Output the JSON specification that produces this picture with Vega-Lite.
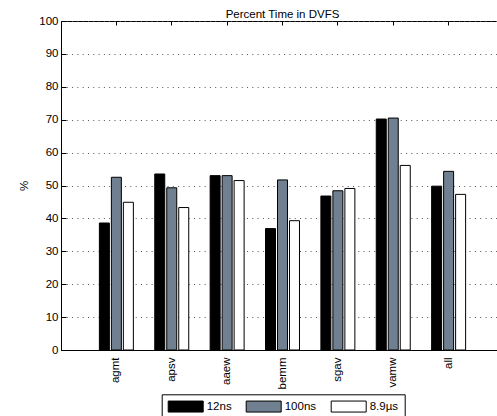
{
  "$schema": "https://vega.github.io/schema/vega-lite/v6.json",
  "width": 443,
  "height": 329,
  "autosize": {"type": "none"},
  "padding": {"left": 61, "top": 21, "right": 0, "bottom": 67},
  "background": "white",
  "title": {"text": "Percent Time in DVFS", "fontSize": 11.5, "fontWeight": "normal", "font": "Liberation Sans", "color": "black", "offset": -5, "anchor": "middle"},
  "config": {
    "view": {"stroke": "black", "strokeWidth": 1},
    "font": "Liberation Sans"
  },
  "data": {
    "values": [
      {"bench": "agmt", "delay": "12ns", "pct": 38.6},
      {"bench": "agmt", "delay": "100ns", "pct": 52.5},
      {"bench": "agmt", "delay": "8.9µs", "pct": 44.9},
      {"bench": "apsv", "delay": "12ns", "pct": 53.5},
      {"bench": "apsv", "delay": "100ns", "pct": 49.3},
      {"bench": "apsv", "delay": "8.9µs", "pct": 43.3},
      {"bench": "aaew", "delay": "12ns", "pct": 53.0},
      {"bench": "aaew", "delay": "100ns", "pct": 53.0},
      {"bench": "aaew", "delay": "8.9µs", "pct": 51.5},
      {"bench": "bemm", "delay": "12ns", "pct": 36.9},
      {"bench": "bemm", "delay": "100ns", "pct": 51.7},
      {"bench": "bemm", "delay": "8.9µs", "pct": 39.3},
      {"bench": "sgav", "delay": "12ns", "pct": 46.8},
      {"bench": "sgav", "delay": "100ns", "pct": 48.4},
      {"bench": "sgav", "delay": "8.9µs", "pct": 49.1},
      {"bench": "vamw", "delay": "12ns", "pct": 70.2},
      {"bench": "vamw", "delay": "100ns", "pct": 70.5},
      {"bench": "vamw", "delay": "8.9µs", "pct": 56.1},
      {"bench": "all", "delay": "12ns", "pct": 49.8},
      {"bench": "all", "delay": "100ns", "pct": 54.3},
      {"bench": "all", "delay": "8.9µs", "pct": 47.3}
    ]
  },
  "resolve": {"axis": {"x": "independent"}},
  "layer": [
    {
      "mark": {"type": "bar", "stroke": "black", "strokeWidth": 1},
      "encoding": {
        "x": {
          "field": "bench", "type": "nominal",
          "sort": ["agmt", "apsv", "aaew", "bemm", "sgav", "vamw", "all"],
          "scale": {"paddingInner": 0, "paddingOuter": 0.5},
          "axis": {"title": null, "labelAngle": 270, "labelFontSize": 11.5, "labelColor": "black", "labelPadding": 11, "ticks": true, "tickSize": -4, "tickColor": "black", "domainColor": "black", "grid": false}
        },
        "xOffset": {
          "field": "delay", "type": "nominal",
          "sort": ["12ns", "100ns", "8.9µs"],
          "scale": {"paddingInner": 0.167, "paddingOuter": 0.892}
        },
        "y": {
          "field": "pct", "type": "quantitative",
          "scale": {"domain": [0, 100], "nice": false},
          "axis": {"title": "%", "titleFontSize": 11.5, "titleFontWeight": "normal", "titleColor": "black", "titlePadding": 9,
                   "values": [0, 10, 20, 30, 40, 50, 60, 70, 80, 90, 100],
                   "labelFontSize": 11.5, "labelColor": "black", "labelPadding": 8,
                   "tickSize": -5, "tickColor": "black", "domainColor": "black",
                   "grid": true, "gridColor": "#555555", "gridDash": [1, 4.3], "gridWidth": 1}
        },
        "color": {
          "field": "delay", "type": "nominal",
          "scale": {"domain": ["12ns", "100ns", "8.9µs"], "range": ["#000000", "#708090", "#ffffff"]},
          "legend": {
            "title": null, "orient": "none", "legendX": 100.7, "legendY": 373.3,
            "direction": "horizontal", "strokeColor": "black", "fillColor": "white", "padding": 6,
            "symbolType": "M-1,-1H5.3636V1H-1Z", "symbolSize": 121,
            "symbolStrokeColor": "black", "symbolStrokeWidth": 1, "symbolOpacity": 1,
            "labelFontSize": 11.5, "labelColor": "black", "labelOffset": 27, "columnPadding": 12
          }
        }
      }
    },
    {
      "mark": {"type": "point", "opacity": 0},
      "encoding": {
        "x": {
          "field": "bench", "type": "nominal",
          "sort": ["agmt", "apsv", "aaew", "bemm", "sgav", "vamw", "all"],
          "axis": {"orient": "top", "title": null, "labels": false, "domain": false, "ticks": true, "tickSize": -4, "tickWidth": 1, "tickColor": "black", "grid": false, "zindex": 2}
        }
      }
    }
  ]
}
